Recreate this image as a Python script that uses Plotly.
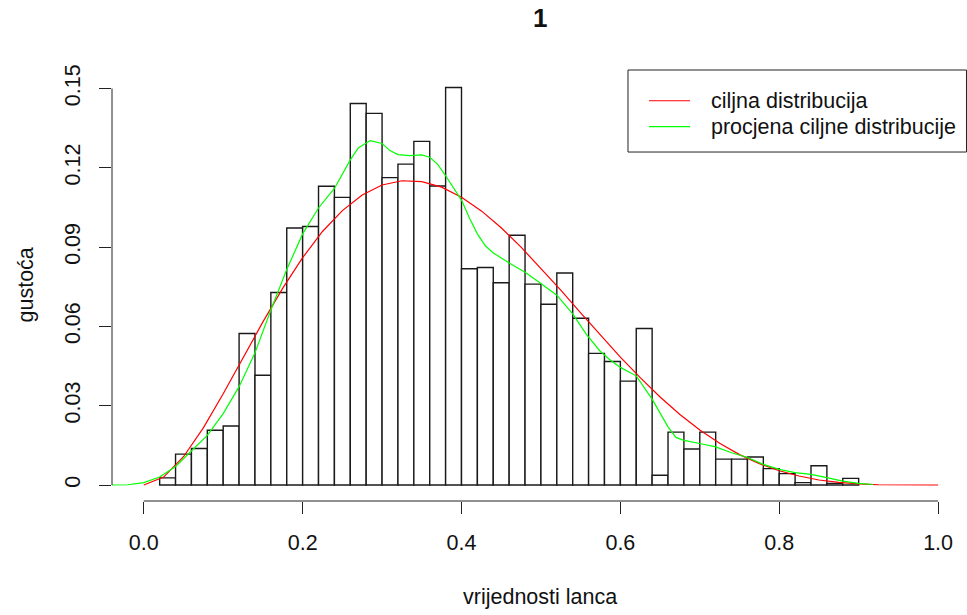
import plotly.graph_objects as go

# ---------------- data ----------------
bin_start = 0.02
bin_width = 0.02
hist_density = [0.0027, 0.0117, 0.0138, 0.0207, 0.0223, 0.0573, 0.0415, 0.0728, 0.0972, 0.0978,
                0.1130, 0.1088, 0.1443, 0.1406, 0.1163, 0.1214, 0.1300, 0.1131, 0.1504, 0.0818,
                0.0823, 0.0765, 0.0945, 0.0760, 0.0684, 0.0802, 0.0631, 0.0498, 0.0467, 0.0393,
                0.0592, 0.0037, 0.0200, 0.0136, 0.0200, 0.0098, 0.0098, 0.0106, 0.0062, 0.0043,
                0.0009, 0.0073, 0.0006, 0.0025]

red_x = [0.0, 0.025, 0.05, 0.075, 0.1, 0.125, 0.15, 0.175, 0.2, 0.225, 0.25, 0.275, 0.3, 0.325,
         0.35, 0.375, 0.4, 0.425, 0.45, 0.475, 0.5, 0.525, 0.55, 0.575, 0.6, 0.625, 0.65, 0.675,
         0.7, 0.725, 0.75, 0.775, 0.8, 0.825, 0.85, 0.875, 0.9, 0.925, 0.95, 0.975, 1.0]
red_y = [0.0, 0.0030, 0.0107, 0.0216, 0.0345, 0.0481, 0.0617, 0.0745, 0.0860, 0.0959, 0.1038,
         0.1097, 0.1135, 0.1151, 0.1148, 0.1127, 0.1089, 0.1037, 0.0973, 0.0900, 0.0820, 0.0737,
         0.0651, 0.0566, 0.0484, 0.0406, 0.0333, 0.0267, 0.0208, 0.0158, 0.0115, 0.0081, 0.0054,
         0.0034, 0.0019, 0.0010, 0.0004, 0.0001, 0.0, 0.0, 0.0]

green_x = [-0.04, -0.02, 0.0, 0.02, 0.04, 0.06, 0.08, 0.10, 0.12, 0.14, 0.16, 0.18, 0.20, 0.22,
           0.24, 0.26, 0.27, 0.285, 0.30, 0.31, 0.32, 0.335, 0.35, 0.36, 0.37, 0.38, 0.39, 0.40,
           0.41, 0.42, 0.43, 0.44, 0.46, 0.48, 0.50, 0.52, 0.54, 0.557, 0.574, 0.586, 0.60, 0.62,
           0.64, 0.66, 0.67, 0.68, 0.70, 0.72, 0.74, 0.76, 0.78, 0.80, 0.82, 0.84, 0.86, 0.88,
           0.90, 0.918]
green_y = [0.0, 0.0001, 0.0009, 0.0030, 0.0070, 0.0130, 0.0188, 0.0270, 0.0372, 0.0500, 0.0662,
           0.0815, 0.0950, 0.1048, 0.1122, 0.1230, 0.1275, 0.1303, 0.1292, 0.1265, 0.1250, 0.1246,
           0.1249, 0.1240, 0.1213, 0.1170, 0.1125, 0.1078, 0.1010, 0.0950, 0.0905, 0.0878, 0.0840,
           0.0805, 0.0762, 0.0718, 0.0647, 0.0571, 0.0508, 0.0476, 0.0445, 0.0413, 0.0325, 0.0220,
           0.0180, 0.0169, 0.0157, 0.0144, 0.0122, 0.0104, 0.0078, 0.0059, 0.0047, 0.0040, 0.0028,
           0.0015, 0.0006, 0.0002]

x_tick_vals = [0.0, 0.2, 0.4, 0.6, 0.8, 1.0]
x_tick_text = ["0.0", "0.2", "0.4", "0.6", "0.8", "1.0"]
y_tick_vals = [0.0, 0.03, 0.06, 0.09, 0.12, 0.15]
y_tick_text = ["0", "0.03", "0.06", "0.09", "0.12", "0.15"]

title_text = "1"
x_title = "vrijednosti lanca"
y_title = "gustoća"
legend_labels = ["ciljna distribucija", "procjena ciljne distribucije"]
legend_colors = ["#FF0000", "#00FF00"]

# ---------------- figure ----------------
FONT = "Liberation Sans, Arial, sans-serif"
FS = 21.5

bin_lefts = [bin_start + i * bin_width for i in range(len(hist_density))]

fig = go.Figure()
fig.add_trace(go.Bar(
    x=bin_lefts, y=hist_density, width=bin_width, offset=0,
    marker=dict(color="white", line=dict(color="#1a1a1a", width=1.4)),
    hoverinfo="skip"))
fig.add_trace(go.Scatter(x=red_x, y=red_y, mode="lines",
                         line=dict(color=legend_colors[0], width=1.2)))
fig.add_trace(go.Scatter(x=green_x, y=green_y, mode="lines",
                         line=dict(color=legend_colors[1], width=1.2)))

axis_common = dict(showgrid=False, zeroline=False, showline=False, ticks="outside",
                   ticklen=12, tickwidth=1, tickcolor="#222",
                   tickfont=dict(family=FONT, size=FS, color="#111"))

fig.update_layout(
    width=967, height=615,
    margin=dict(l=112, r=0, t=70, b=114),
    paper_bgcolor="white", plot_bgcolor="white",
    showlegend=False,
    xaxis=dict(range=[-0.04, 1.0364], tickvals=x_tick_vals, ticktext=x_tick_text,
               ticklabelstandoff=10, **axis_common),
    yaxis=dict(range=[-0.00605, 0.1570], tickvals=y_tick_vals, ticktext=y_tick_text,
               tickangle=-90, ticklabelstandoff=10, **axis_common),
)

shapes = [
    # axis lines spanning first..last tick (R style)
    dict(type="line", xref="x", yref="paper", x0=x_tick_vals[0], x1=x_tick_vals[-1], y0=0, y1=0,
         line=dict(color="#222", width=1)),
    dict(type="line", xref="paper", yref="y", x0=0, x1=0, y0=y_tick_vals[0], y1=y_tick_vals[-1],
         line=dict(color="#222", width=1)),
    # legend box
    dict(type="rect", xref="paper", yref="paper", x0=0.6035, x1=0.9994, y0=0.8097, y1=1.0,
         line=dict(color="#222", width=1), fillcolor="white"),
]
annotations = [
    dict(text="<b>%s</b>" % title_text, xref="paper", yref="paper", x=0.5, y=(501 - 18) / 431,
         showarrow=False, xanchor="center", yanchor="middle",
         font=dict(family=FONT, size=26, color="#111")),
    dict(text=x_title, xref="paper", yref="paper", x=0.5, y=-96 / 431,
         showarrow=False, xanchor="center", yanchor="middle",
         font=dict(family=FONT, size=FS, color="#111")),
    dict(text=y_title, xref="paper", yref="paper", x=-87 / 855, y=0.5, textangle=-90,
         showarrow=False, xanchor="center", yanchor="middle",
         font=dict(family=FONT, size=FS, color="#111")),
]
row_y = [0.9287, 0.8684]
for lab, col, ry in zip(legend_labels, legend_colors, row_y):
    shapes.append(dict(type="line", xref="paper", yref="paper", x0=0.628, x1=0.676, y0=ry, y1=ry,
                       line=dict(color=col, width=1.2)))
    annotations.append(dict(text=lab, xref="paper", yref="paper", x=0.6982, y=ry,
                            showarrow=False, xanchor="left", yanchor="middle",
                            font=dict(family=FONT, size=FS, color="#111")))

fig.update_layout(shapes=shapes, annotations=annotations)
fig.write_html("out.html")
